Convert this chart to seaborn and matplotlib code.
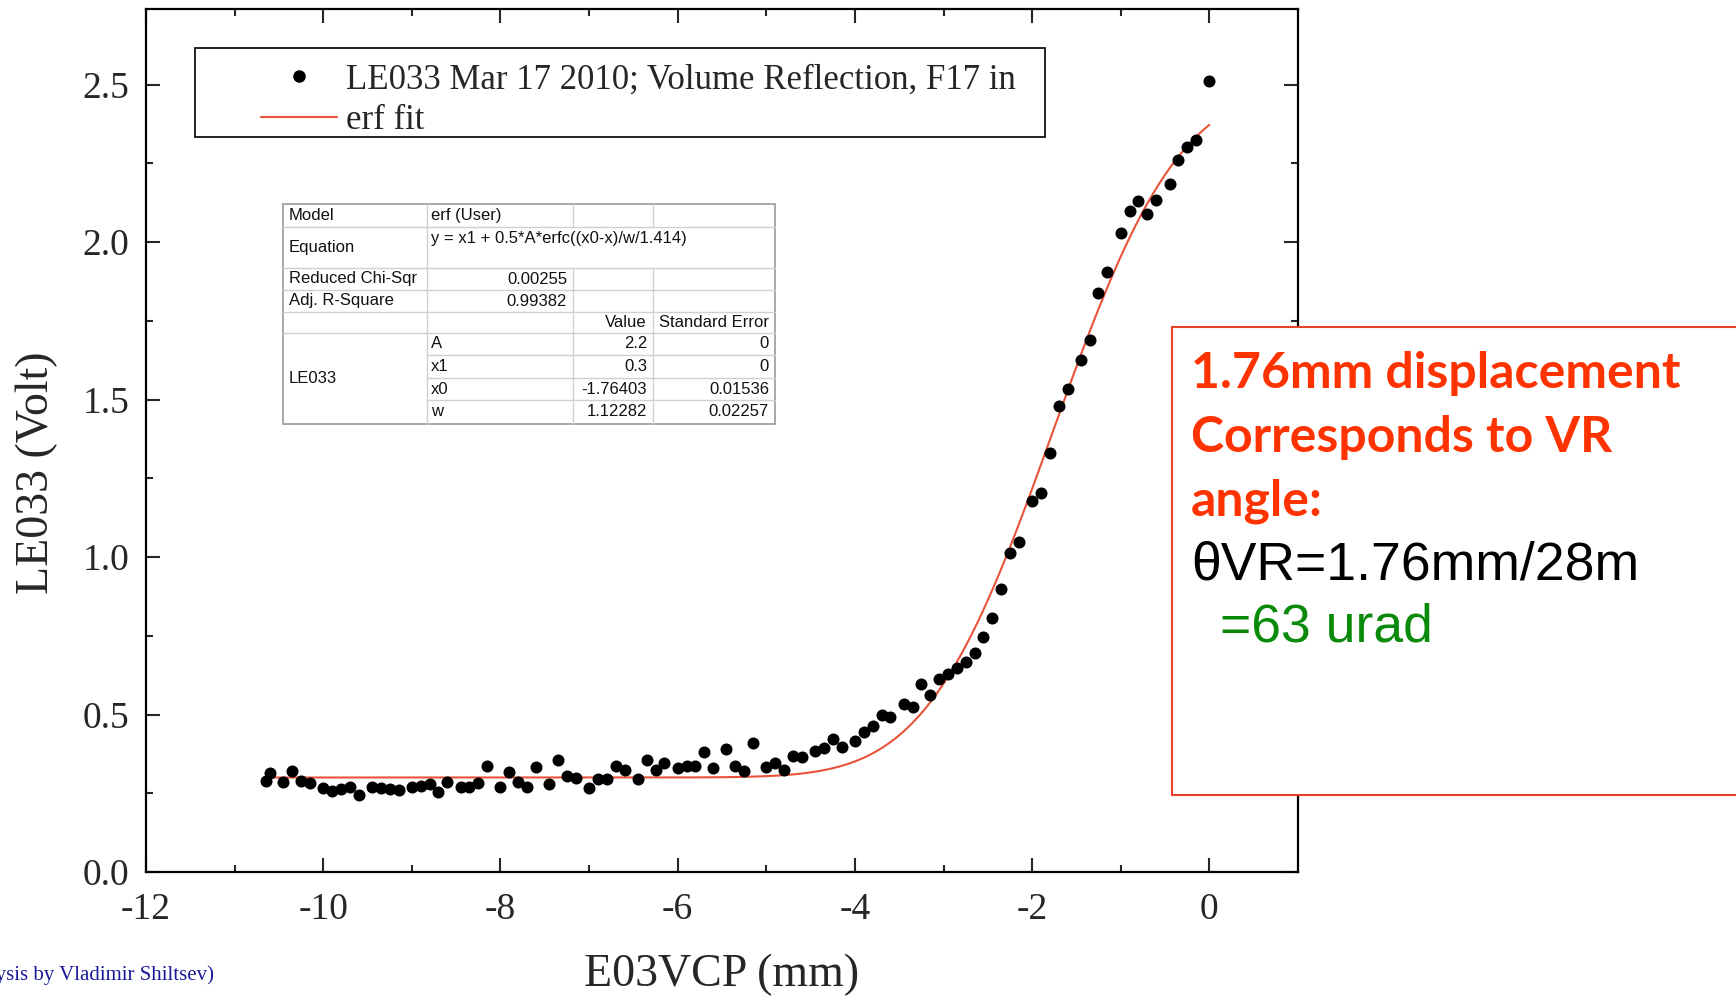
import math
import numpy as np
import pandas as pd
import matplotlib
matplotlib.use('Agg')
import matplotlib.pyplot as plt
from matplotlib.patches import Rectangle
from matplotlib.lines import Line2D
import seaborn as sns

# measured points, E03VCP (mm) vs LE033 (Volt)
x_mm = [-10.65, -10.60, -10.45, -10.35, -10.25, -10.15, -10.00, -9.90, -9.80, -9.70,
        -9.60, -9.45, -9.35, -9.25, -9.15, -9.00, -8.90, -8.80, -8.70, -8.60,
        -8.45, -8.35, -8.25, -8.15, -8.00, -7.90, -7.80, -7.70, -7.60, -7.45,
        -7.35, -7.25, -7.15, -7.00, -6.90, -6.80, -6.70, -6.60, -6.45, -6.35,
        -6.25, -6.15, -6.00, -5.90, -5.80, -5.70, -5.60, -5.45, -5.35, -5.25,
        -5.15, -5.00, -4.90, -4.80, -4.70, -4.60, -4.45, -4.35, -4.25, -4.15,
        -4.00, -3.90, -3.80, -3.70, -3.60, -3.45, -3.35, -3.25, -3.15, -3.05,
        -2.95, -2.85, -2.75, -2.65, -2.55, -2.45, -2.35, -2.25, -2.15, -2.00,
        -1.90, -1.80, -1.70, -1.60, -1.45, -1.35, -1.26, -1.16, -1.00, -0.90,
        -0.80, -0.70, -0.60, -0.45, -0.35, -0.25, -0.15, 0.00]
volts = [0.288, 0.313, 0.285, 0.320, 0.288, 0.281, 0.267, 0.257, 0.264, 0.271,
         0.246, 0.271, 0.267, 0.264, 0.260, 0.271, 0.274, 0.278, 0.253, 0.285,
         0.271, 0.271, 0.281, 0.338, 0.271, 0.316, 0.285, 0.271, 0.334, 0.278,
         0.355, 0.306, 0.299, 0.267, 0.295, 0.295, 0.338, 0.323, 0.295, 0.355,
         0.323, 0.345, 0.331, 0.338, 0.338, 0.380, 0.331, 0.390, 0.338, 0.320,
         0.408, 0.334, 0.345, 0.323, 0.369, 0.366, 0.383, 0.394, 0.422, 0.397,
         0.415, 0.443, 0.464, 0.499, 0.492, 0.534, 0.524, 0.598, 0.563, 0.612,
         0.629, 0.647, 0.668, 0.696, 0.745, 0.805, 0.900, 1.013, 1.048, 1.178,
         1.203, 1.329, 1.480, 1.533, 1.624, 1.688, 1.839, 1.906, 2.029, 2.099,
         2.131, 2.089, 2.134, 2.184, 2.261, 2.303, 2.324, 2.511]

# fit parameters (from the table)
fit_A = 2.2
fit_x1 = 0.3
fit_x0 = -1.76403
fit_w = 1.12282

legend_labels = ['LE033 Mar 17 2010; Volume Reflection, F17 in', 'erf fit']

table_stats = [('Model', 'erf (User)'),
               ('Equation', 'y = x1 + 0.5*A*erfc((x0-x)/w/1.414)'),
               ('Reduced Chi-Sqr', '0.00255'),
               ('Adj. R-Square', '0.99382')]
param_names = ['A', 'x1', 'x0', 'w']
param_values = ['2.2', '0.3', '-1.76403', '1.12282']
param_errors = ['0', '0', '0.01536', '0.02257']

df = pd.DataFrame({'x': x_mm, 'y': volts})
xf = np.linspace(min(x_mm), max(x_mm), 400)
yf = [fit_x1 + 0.5 * fit_A * math.erfc((fit_x0 - v) / fit_w / 1.414) for v in xf]
fit_df = pd.DataFrame({'x': xf, 'y': yf})

sns.set_style('ticks')
plt.rcParams['font.family'] = ['Liberation Serif', 'DejaVu Serif']
plt.rcParams['axes.unicode_minus'] = False

fig = plt.figure(figsize=(17.36, 10), dpi=100)
ax = fig.add_axes([146 / 1736, 1 - 872 / 1000, 1152 / 1736, 863 / 1000])

fit_color = '#e8533a'
sns.lineplot(data=fit_df, x='x', y='y', ax=ax, color=fit_color, lw=1.5, zorder=2)
sns.scatterplot(data=df, x='x', y='y', ax=ax, color='black', s=75, edgecolor='black',
                linewidth=0, zorder=3)

ax.set_xlim(-12, 1)
ax.set_ylim(0, 2.74)
ax.set_xticks(np.arange(-12, 1, 2))
ax.set_xticks(np.arange(-11, 1, 2), minor=True)
ax.set_yticks(np.arange(0, 2.6, 0.5))
ax.set_yticks(np.arange(0.25, 2.6, 0.5), minor=True)
ax.set_yticklabels([f'{v:.1f}' for v in np.arange(0, 2.6, 0.5)])
ax.tick_params(which='both', direction='in', top=True, right=True, width=1.5, labelsize=27)
ax.tick_params(which='major', length=10)
ax.tick_params(which='minor', length=5)
ax.tick_params(axis='x', pad=15)
ax.tick_params(axis='y', pad=12)
for sp in ax.spines.values():
    sp.set_linewidth(1.6)
    sp.set_color('black')

ax.set_xlabel('E03VCP (mm)', fontsize=33, va='center')
ax.xaxis.set_label_coords(0.5, -0.119)
ax.set_ylabel('LE033 (Volt)', fontsize=33, va='center', ha='center')
ax.yaxis.set_label_coords(-0.095, 0.463)

# legend
handles = [Line2D([], [], marker='o', ls='none', color='black', markersize=8),
           Line2D([], [], color=fit_color, lw=1.5)]
ax.legend(handles, legend_labels, loc='upper left', bbox_to_anchor=(0.0998, 0.937),
          borderaxespad=0, borderpad=0, frameon=False, fontsize=25,
          handlelength=2.2, handletextpad=0.26, labelspacing=0.23)
ax.add_patch(Rectangle((0.0425, 0.852), 0.738, 0.103, transform=ax.transAxes,
                       fill=False, edgecolor='#222222', lw=1.4, zorder=5))

# overlay in figure pixels for the table and the note box
ov = fig.add_axes([0, 0, 1, 1], zorder=10)
ov.set_xlim(0, 1736)
ov.set_ylim(1000, 0)
ov.axis('off')
ov.patch.set_alpha(0)

col_x = [283, 427, 573, 653, 775]
row_y = [204, 227, 268, 290, 312, 333, 355, 378, 400, 424]
grid_c = '#d0d0d0'
tfont = dict(family='Liberation Sans', fontsize=12, color='#111111')
ov.add_patch(Rectangle((col_x[0], row_y[0]), col_x[-1] - col_x[0], row_y[-1] - row_y[0],
                       facecolor='white', edgecolor='#9a9a9a', lw=1.2))
# horizontal lines
for i, yy in enumerate(row_y[1:-1], start=1):
    x_start = col_x[1] if i >= 6 else col_x[0]
    ov.plot([x_start, col_x[-1]], [yy, yy], color=grid_c, lw=1)
# vertical lines
ov.plot([col_x[1], col_x[1]], [row_y[0], row_y[-1]], color=grid_c, lw=1)
for cx in col_x[2:4]:
    ov.plot([cx, cx], [row_y[0], row_y[1]], color=grid_c, lw=1)
    ov.plot([cx, cx], [row_y[2], row_y[-1]], color=grid_c, lw=1)

ov.text(col_x[0] + 6, (row_y[0] + row_y[1]) / 2, table_stats[0][0], va='center', **tfont)
ov.text(col_x[1] + 4, (row_y[0] + row_y[1]) / 2, table_stats[0][1], va='center', **tfont)
ov.text(col_x[0] + 6, (row_y[1] + row_y[2]) / 2, table_stats[1][0], va='center', **tfont)
ov.text(col_x[1] + 4, row_y[1] + 11, table_stats[1][1], va='center', **tfont)
for k in (2, 3):
    ov.text(col_x[0] + 6, (row_y[k] + row_y[k + 1]) / 2, table_stats[k][0], va='center', **tfont)
    ov.text(col_x[2] - 6, (row_y[k] + row_y[k + 1]) / 2, table_stats[k][1], va='center',
            ha='right', **tfont)
ov.text(col_x[3] - 6, (row_y[4] + row_y[5]) / 2, 'Value', va='center', ha='right', **tfont)
ov.text(col_x[4] - 6, (row_y[4] + row_y[5]) / 2, 'Standard Error', va='center', ha='right', **tfont)
ov.text(col_x[0] + 6, (row_y[5] + row_y[9]) / 2, 'LE033', va='center', **tfont)
for j, (nm, val, err) in enumerate(zip(param_names, param_values, param_errors)):
    yc = (row_y[5 + j] + row_y[6 + j]) / 2
    ov.text(col_x[1] + 4, yc, nm, va='center', **tfont)
    ov.text(col_x[3] - 6, yc, val, va='center', ha='right', **tfont)
    ov.text(col_x[4] - 6, yc, err, va='center', ha='right', **tfont)

# note box
note_red = '#ff3300'
ov.add_patch(Rectangle((1172, 327), 600, 468, facecolor='white', edgecolor='#e8402a', lw=1.5))
for txt, yy in [('1.76mm displacement', 374), ('Corresponds to VR', 437), ('angle:', 501)]:
    ov.text(1191, yy, txt, color=note_red, fontsize=36, fontweight='bold', family='Lato',
            va='center')
ov.text(1191, 565, 'θVR=1.76mm/28m', color='black', fontsize=38.5, family='Liberation Sans',
        va='center')
ov.text(1220, 628, '=63 urad', color='#0a8a0a', fontsize=38.5, family='Liberation Sans',
        va='center')

ov.text(214, 975, '(Analysis by Vladimir Shiltsev)', color='#1a1a99', fontsize=15,
        ha='right', va='center')

fig.savefig('out.png', dpi=100)
